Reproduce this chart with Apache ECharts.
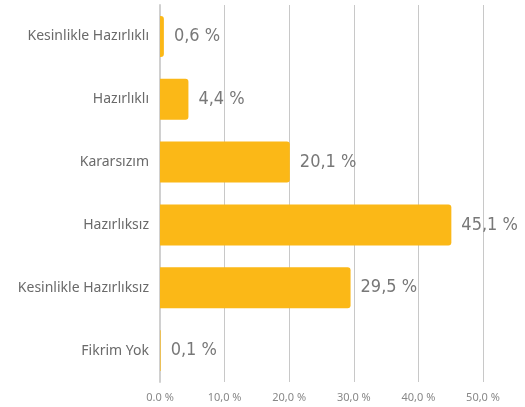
<!DOCTYPE html>
<html>
<head>
<meta charset="utf-8">
<script src="https://cdn.jsdelivr.net/npm/echarts@6/dist/echarts.min.js"></script>
<style>
  html, body { margin: 0; padding: 0; background: #fff; }
  #chart { width: 525px; height: 407px; }
</style>
</head>
<body>
<div id="chart"></div>
<script>
var categories = ['Kesinlikle Hazırlıklı', 'Hazırlıklı', 'Kararsızım', 'Hazırlıksız', 'Kesinlikle Hazırlıksız', 'Fikrim Yok']
var values = [0.6, 4.4, 20.1, 45.1, 29.5, 0.1]
var tickLabels = ['0.0 %', '10,0 %', '20,0 %', '30,0 %', '40,0 %', '50,0 %']

var myChart = echarts.init(document.getElementById('chart'))
myChart.setOption({
  animation: false,
  grid: { left: 160, right: 42, top: 5, bottom: 25, containLabel: false },
  xAxis: {
    type: 'value',
    min: 0,
    max: 50,
    interval: 10,
    axisLine: { show: false },
    axisTick: { show: false },
    splitLine: { lineStyle: { color: '#c8c8c8', width: 1 } },
    axisLabel: {
      color: '#888',
      fontFamily: 'Noto Sans',
      fontSize: 11,
      margin: 10,
      formatter: function (v) { return tickLabels[Math.round(v / 10)] }
    }
  },
  yAxis: {
    type: 'category',
    inverse: true,
    data: categories,
    axisLine: { lineStyle: { color: '#d0d0d0', width: 2 } },
    axisTick: { show: false },
    axisLabel: { color: '#6a6a6a', fontFamily: 'Noto Sans', fontSize: 14, margin: 11 }
  },
  series: [
    {
      type: 'bar',
      data: values,
      barWidth: 41,
      itemStyle: { color: '#FBB817', borderRadius: [0, 3, 3, 0] },
      label: {
        show: true,
        position: 'right',
        distance: 10,
        color: '#787878',
        fontFamily: 'DejaVu Sans Condensed',
        fontSize: 18,
        formatter: function (p) { return String(p.value.toFixed(1)).replace('.', ',') + ' %' }
      }
    }
  ]
})
</script>
</body>
</html>
